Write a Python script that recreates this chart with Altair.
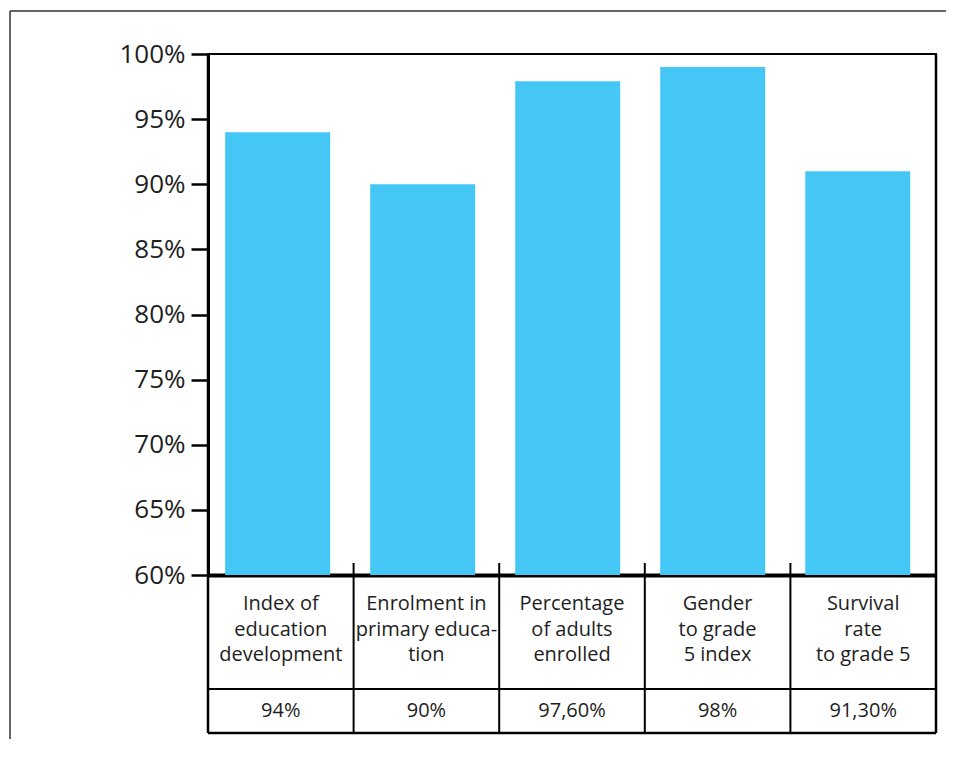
import altair as alt
import pandas as pd

# ---- data ----
categories = [
    "Index of\neducation\ndevelopment",
    "Enrolment in\nprimary educa-\ntion",
    "Percentage\nof adults\nenrolled",
    "Gender\nto grade\n5 index",
    "Survival\nrate\nto grade 5",
]
bar_values = [94, 90, 97.9, 99, 91]
value_labels = ["94%", "90%", "97,60%", "98%", "91,30%"]
y_ticks = [60, 65, 70, 75, 80, 85, 90, 95, 100]

# ---- styling ----
W, H = 728, 521
FONT = "Open Sans"
BAR = "#45C7F5"
INK = "#1e1e1e"

df = pd.DataFrame({
    "cat": categories,
    "value": bar_values,
    "label": value_labels,
    "idx": list(range(len(categories))),
})
df["mid"] = df["idx"] + 0.5

n = len(categories)
interior_df = pd.DataFrame({"b": list(range(1, n))})
outer_df = pd.DataFrame({"b": [0, n]})
one = pd.DataFrame({"k": [0]})

bars = alt.Chart(df).mark_bar(color=BAR).encode(
    x=alt.X("cat:N", sort=categories,
            scale=alt.Scale(paddingInner=0.276, paddingOuter=0.148, align=0.4),
            axis=alt.Axis(labels=False, ticks=False, title=None,
                          domainWidth=4, domainColor="black")),
    y=alt.Y("value:Q",
            scale=alt.Scale(domain=[60, 100], zero=False, nice=False),
            axis=alt.Axis(values=y_ticks, labelExpr="datum.value + '%'",
                          title=None, grid=False, tickSize=17, tickWidth=2.5,
                          tickColor="black", domainColor="black", domainWidth=3,
                          labelFont=FONT, labelFontSize=26, labelColor=INK,
                          labelPadding=6)),
    y2=alt.datum(60),
)

lin = alt.Scale(domain=[0, n], nice=False, zero=False)

inner_rules = alt.Chart(interior_df).mark_rule(color="black", strokeWidth=2).encode(
    x=alt.X("b:Q", scale=lin, axis=None),
    y=alt.value(509), y2=alt.value(679),
)
outer_rules = alt.Chart(outer_df).mark_rule(color="black", strokeWidth=2.5).encode(
    x=alt.X("b:Q", scale=lin, axis=None),
    y=alt.value(0), y2=alt.value(679),
)
mid_line = alt.Chart(one).mark_rule(color="black", strokeWidth=2).encode(
    x=alt.value(0), x2=alt.value(W), y=alt.value(635))
bottom_line = alt.Chart(one).mark_rule(color="black", strokeWidth=2.5).encode(
    x=alt.value(0), x2=alt.value(W), y=alt.value(679))

cat_text = alt.Chart(df).mark_text(
    font=FONT, fontSize=20, lineBreak="\n", lineHeight=25.5, color=INK,
    baseline="middle", align="center").encode(
    x=alt.X("mid:Q", scale=lin, axis=None),
    y=alt.value(550),
    text="cat:N",
)
val_text = alt.Chart(df).mark_text(
    font=FONT, fontSize=20, color=INK, baseline="middle", align="center").encode(
    x=alt.X("mid:Q", scale=lin, axis=None),
    y=alt.value(657),
    text="label:N",
)

table = alt.layer(inner_rules, outer_rules, mid_line, bottom_line, cat_text, val_text)

frame_top = alt.Chart(one).mark_rule(color="#333333", strokeWidth=1.5).encode(
    x=alt.value(-198), x2=alt.value(738), y=alt.value(-43))
frame_left = alt.Chart(one).mark_rule(color="#333333", strokeWidth=1.5).encode(
    x=alt.value(-198), y=alt.value(-43), y2=alt.value(685))

chart = alt.layer(bars, table, frame_top, frame_left).resolve_scale(
    x="independent"
).properties(
    width=W, height=H,
    padding={"left": 1, "top": 2, "right": 0, "bottom": 0},
    background="white",
).configure_view(stroke="black", strokeWidth=2)

chart.save("out.html", embed_options={"renderer": "svg", "actions": False})
